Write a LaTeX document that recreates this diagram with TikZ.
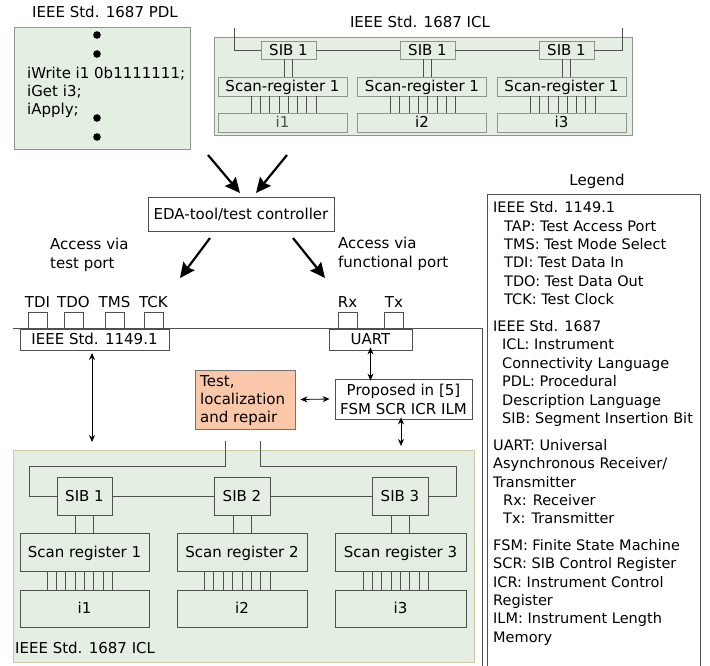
\documentclass[tikz,border=0pt]{standalone}
\usepackage{fontspec}
\setmainfont{DejaVu Sans}
\usetikzlibrary{arrows.meta}
\definecolor{iclfill}{RGB}{228,238,226}
\definecolor{iclborder}{RGB}{140,150,140}
\definecolor{tanborder}{RGB}{205,200,165}
\definecolor{orangefill}{RGB}{250,199,168}
\definecolor{ln}{RGB}{80,80,80}
\begin{document}
\begin{tikzpicture}[x=1pt,y=-1pt,
  every node/.style={font=\fontsize{15}{18}\selectfont},
  bx/.style={draw=ln, line width=0.8pt, inner sep=0pt, text height=10.9pt, text depth=0pt},
  gbx/.style={bx, fill=iclfill, draw=iclborder},
  txt/.style={inner sep=0pt, anchor=base west},
  ctxt/.style={inner sep=0pt, anchor=base},
  lg/.style={inner sep=0pt, anchor=base west, font=\fontsize{14.5}{18}\selectfont},
  wire/.style={draw=ln, line width=0.8pt},
  big/.style={line width=2.2pt, -{Stealth[length=15pt,width=14pt,inset=2pt]}},
  dbl/.style={line width=0.8pt, {Stealth[length=7pt,width=6pt]}-{Stealth[length=7pt,width=6pt]}},
]
\useasboundingbox (0,0) rectangle (710,666);

% ---------- PDL ----------
\node[ctxt] (pdltitle) at (105,17.5) {IEEE Std. 1687 PDL};
\node[bx, fill=iclfill, draw=iclborder, minimum width=176, minimum height=122] (pdl) at (102,88) {};
\foreach \yy/\nm in {35/d1,54/d2,118/d3,137/d4}
  \fill (97,\yy) circle (3.8pt);
\node[txt] (pl1) at (27,78.5) {iWrite i1 0b1111111;};
\node[txt] (pl2) at (27,96.5) {iGet i3;};
\node[txt] (pl3) at (27,114.5) {iApply;};

% ---------- top ICL ----------
\node[ctxt] (icltitle) at (420,27.5) {IEEE Std. 1687 ICL};
\node[gbx, minimum width=418, minimum height=98] (iclt) at (423,86) {};
\foreach \n/\cx in {1/288.5,2/427.5,3/566.5}{
  \node[gbx, minimum width=55, minimum height=18] (st\n) at (\cx,50) {SIB 1};
}
\foreach \n/\cx in {1/282.5,2/422,3/561.5}{
  \node[gbx, minimum width=129, minimum height=19] (srt\n) at (\cx,86.5) {Scan-register 1};
  \draw[wire] ([xshift=-4pt]st\n.south) -- ([xshift=-4pt]st\n.south |- srt\n.north);
  \draw[wire] ([xshift=4pt]st\n.south) -- ([xshift=4pt]st\n.south |- srt\n.north);
}
\node[gbx, minimum width=129, minimum height=19, text=ln] (it1) at (282.5,122.5) {i1};
\node[gbx, minimum width=129, minimum height=19] (it2) at (422,122.5) {i2};
\node[gbx, minimum width=129, minimum height=19] (it3) at (561.5,122.5) {i3};
\foreach \n in {1,2,3}{
  \foreach \k in {0,...,7}{
    \draw[wire] ([xshift=-31.5pt+\k*9.3pt]srt\n.south) -- ([xshift=-31.5pt+\k*9.3pt]it\n.north);
  }
}
\coordinate (tl) at (234,28);
\coordinate (tr) at (622,28);
\draw[wire] (tl) |- (st1.west);
\draw[wire] (st1.east) -- (st2.west);
\draw[wire] (st2.east) -- (st3.west);
\draw[wire] (st3.east) -| (tr);

% ---------- EDA ----------
\coordinate (a1s) at (208,155);
\coordinate (a2s) at (287,155);
\node[bx, minimum width=186, minimum height=34] (eda) at (241,214) {EDA-tool/test controller};
\draw[big] (a1s) -- (240,193);
\draw[big] (a2s) -- (256,193);
\coordinate (a3e) at (180,278);
\coordinate (a4e) at (325,278);
\draw[big] (210,238) -- (a3e);
\draw[big] (293,238) -- (a4e);
\node[txt] (acc1) at (50,249.5) {Access via};
\node[txt] (acc2) at (50,268.5) {test port};
\node[txt] (acc3) at (338,248.5) {Access via};
\node[txt] (acc4) at (338,267.5) {functional port};

% ---------- ports ----------
\foreach \nm/\cx in {TDI/37.5,TDO/73.5,TMS/114.5,TCK/153.5,Rx/347.5,Tx/394}{
  \node[ctxt] (l\nm) at (\cx,307.5) {\nm};
  \node[bx, minimum width=19, minimum height=16] (p\nm) at (\cx,320) {};
}
\coordinate (chl) at (13,328);
\coordinate (chc) at (482,328);
\coordinate (chb) at (482,670);
\draw[wire] (chl) -- (chc) -- (chb);
\node[bx, fill=white, minimum width=149, minimum height=21] (jtag) at (94.5,339.5) {IEEE Std. 1149.1};
\node[bx, fill=white, minimum width=83, minimum height=21] (uart) at (370.5,339.5) {UART};

% ---------- middle ----------
\node[bx, fill=orangefill, draw=ln!80, minimum width=100, minimum height=59] (tlr) at (245,399.5) {};
\node[txt] (t1) at (200,386.5) {Test,};
\node[txt] (t2) at (200,404.5) {localization};
\node[txt] (t3) at (200,422.5) {and repair};
\node[bx, minimum width=137, minimum height=40] (prop) at (403.5,399) {};
\node[ctxt] (pr1) at (403.5,395.5) {Proposed in [5]};
\node[ctxt] (pr2) at (403.5,414.5) {FSM SCR ICR ILM};

% ---------- bottom ICL ----------
\node[bx, fill=iclfill, draw=tanborder, minimum width=461, minimum height=212] (iclb) at (243.5,556) {};
\node[txt] (iclbt) at (15,653.5) {IEEE Std. 1687 ICL};
\node[bx, minimum width=55, minimum height=38] (sb1) at (84.5,496) {SIB 1};
\node[bx, minimum width=56, minimum height=38] (sb2) at (242,496) {SIB 2};
\node[bx, minimum width=56, minimum height=38] (sb3) at (400,496) {SIB 3};
\node[bx, minimum width=129, minimum height=38] (sr1) at (84.5,552) {Scan register 1};
\node[bx, minimum width=130, minimum height=38] (sr2) at (242,552) {Scan register 2};
\node[bx, minimum width=131, minimum height=38] (sr3) at (400.5,552) {Scan register 3};
\node[bx, minimum width=129, minimum height=37] (ib1) at (84.5,608.5) {i1};
\node[bx, minimum width=130, minimum height=37] (ib2) at (242,608.5) {i2};
\node[bx, minimum width=131, minimum height=37] (ib3) at (400.5,608.5) {i3};
\foreach \n in {1,2,3}{
  \draw[wire] ([xshift=-9pt]sb\n.south) -- ([xshift=-9pt]sb\n.south |- sr\n.north);
  \draw[wire] ([xshift=9pt]sb\n.south) -- ([xshift=9pt]sb\n.south |- sr\n.north);
  \foreach \k in {0,...,7}{
    \draw[wire] ([xshift=-37.5pt+\k*9.36pt]sr\n.south) -- ([xshift=-37.5pt+\k*9.36pt]ib\n.north);
  }
}
\draw[wire] (sb1.east) -- (sb2.west);
\draw[wire] (sb2.east) -- (sb3.west);
\coordinate (wl) at (225,441);
\coordinate (wr) at (260,441);
\draw[wire] (wl) -- (225,466) -- (29,466) |- (sb1.west);
\draw[wire] (wr) -- (260,466) -- (456,466) |- (sb3.east);

% ---------- double arrows ----------
\coordinate (j1) at (92,353);
\coordinate (j2) at (92,442);
\draw[dbl] (j1) -- (j2);
\draw[dbl] ([xshift=5pt]tlr.east) -- ([xshift=-5pt]prop.west);
\draw[dbl] ([yshift=3pt]uart.south) -- ([yshift=-2pt]uart.south |- prop.north);
\coordinate (pb) at (401,446);
\draw[dbl] ([xshift=-2.5pt,yshift=2pt]prop.south) -- (pb);

% ---------- legend ----------
\node[ctxt] (lgt) at (597,185.3) {Legend};
\node[bx, minimum width=213, minimum height=480] (lgbox) at (593.5,434) {};
\node[lg] (g1) at (493,212.3) {IEEE Std. 1149.1};
\node[lg] (g2) at (504,231.3) {TAP: Test Access Port};
\node[lg] (g3) at (504,249.3) {TMS: Test Mode Select};
\node[lg] (g4) at (504,267.3) {TDI: Test Data In};
\node[lg] (g5) at (504,286.3) {TDO: Test Data Out};
\node[lg] (g6) at (504,304.3) {TCK: Test Clock};
\node[lg] (g7) at (493,331.3) {IEEE Std. 1687};
\node[lg] (g8) at (502,349.3) {ICL: Instrument};
\node[lg] (g9) at (502,368.3) {Connectivity Language};
\node[lg] (g10) at (502,386.3) {PDL: Procedural};
\node[lg] (g11) at (502,405.3) {Description Language};
\node[lg] (g12) at (502,423.3) {SIB: Segment Insertion Bit};
\node[lg] (g13) at (493,450.3) {UART: Universal};
\node[lg] (g14) at (493,468.3) {Asynchronous Receiver/};
\node[lg] (g15) at (493,487.3) {Transmitter};
\node[lg] (g16) at (503,505.3) {Rx: Receiver};
\node[lg] (g17) at (503,523.3) {Tx: Transmitter};
\node[lg] (g18) at (493,550.3) {FSM: Finite State Machine};
\node[lg] (g19) at (493,568.3) {SCR: SIB Control Register};
\node[lg] (g20) at (493,587.3) {ICR: Instrument Control};
\node[lg] (g21) at (493,605.3) {Register};
\node[lg] (g22) at (493,623.3) {ILM: Instrument Length};
\node[lg] (g23) at (493,642.3) {Memory};
\end{tikzpicture}
\end{document}
